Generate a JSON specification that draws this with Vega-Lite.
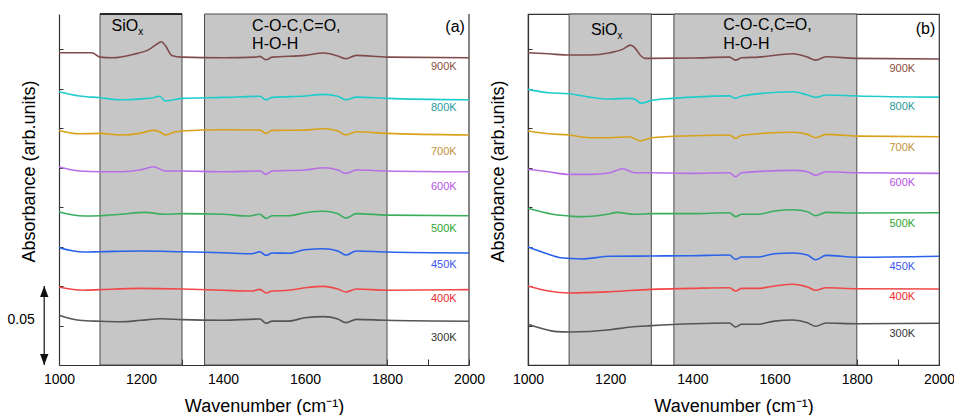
{
  "$schema": "https://vega.github.io/schema/vega-lite/v6.json",
  "padding": {"left": 7, "top": 12, "right": 0, "bottom": 0},
  "spacing": 59,
  "bounds": "flush",
  "config": {"font": "Liberation Sans", "view": {"stroke": null}, "text": {"color": "#000"}},
  "datasets": {
    "spectra": [
      {"p":"a","T":"900K","w":1000,"A":0.1977},{"p":"a","T":"900K","w":1080,"A":0.1977},{"p":"a","T":"900K","w":1100,"A":0.1949},{"p":"a","T":"900K","w":1130,"A":0.1945},{"p":"a","T":"900K","w":1180,"A":0.1966},{"p":"a","T":"900K","w":1220,"A":0.1998},{"p":"a","T":"900K","w":1240,"A":0.2034},{"p":"a","T":"900K","w":1250,"A":0.2046},{"p":"a","T":"900K","w":1260,"A":0.2019},{"p":"a","T":"900K","w":1275,"A":0.1960},{"p":"a","T":"900K","w":1300,"A":0.1949},{"p":"a","T":"900K","w":1400,"A":0.1945},{"p":"a","T":"900K","w":1480,"A":0.1949},{"p":"a","T":"900K","w":1490,"A":0.1954},{"p":"a","T":"900K","w":1505,"A":0.1932},{"p":"a","T":"900K","w":1520,"A":0.1949},{"p":"a","T":"900K","w":1600,"A":0.1960},{"p":"a","T":"900K","w":1645,"A":0.1975},{"p":"a","T":"900K","w":1680,"A":0.1956},{"p":"a","T":"900K","w":1700,"A":0.1939},{"p":"a","T":"900K","w":1725,"A":0.1960},{"p":"a","T":"900K","w":1800,"A":0.1949},{"p":"a","T":"900K","w":2000,"A":0.1945},
      {"p":"a","T":"800K","w":1000,"A":0.1730},{"p":"a","T":"800K","w":1050,"A":0.1703},{"p":"a","T":"800K","w":1100,"A":0.1692},{"p":"a","T":"800K","w":1150,"A":0.1679},{"p":"a","T":"800K","w":1200,"A":0.1685},{"p":"a","T":"800K","w":1230,"A":0.1692},{"p":"a","T":"800K","w":1245,"A":0.1701},{"p":"a","T":"800K","w":1260,"A":0.1671},{"p":"a","T":"800K","w":1280,"A":0.1679},{"p":"a","T":"800K","w":1300,"A":0.1688},{"p":"a","T":"800K","w":1400,"A":0.1694},{"p":"a","T":"800K","w":1490,"A":0.1701},{"p":"a","T":"800K","w":1505,"A":0.1679},{"p":"a","T":"800K","w":1520,"A":0.1694},{"p":"a","T":"800K","w":1600,"A":0.1703},{"p":"a","T":"800K","w":1645,"A":0.1713},{"p":"a","T":"800K","w":1680,"A":0.1701},{"p":"a","T":"800K","w":1700,"A":0.1679},{"p":"a","T":"800K","w":1725,"A":0.1696},{"p":"a","T":"800K","w":1800,"A":0.1688},{"p":"a","T":"800K","w":2000,"A":0.1679},
      {"p":"a","T":"700K","w":1000,"A":0.1485},{"p":"a","T":"700K","w":1050,"A":0.1464},{"p":"a","T":"700K","w":1100,"A":0.1466},{"p":"a","T":"700K","w":1150,"A":0.1456},{"p":"a","T":"700K","w":1200,"A":0.1468},{"p":"a","T":"700K","w":1230,"A":0.1485},{"p":"a","T":"700K","w":1245,"A":0.1477},{"p":"a","T":"700K","w":1260,"A":0.1456},{"p":"a","T":"700K","w":1280,"A":0.1473},{"p":"a","T":"700K","w":1300,"A":0.1481},{"p":"a","T":"700K","w":1400,"A":0.1489},{"p":"a","T":"700K","w":1490,"A":0.1487},{"p":"a","T":"700K","w":1505,"A":0.1466},{"p":"a","T":"700K","w":1520,"A":0.1485},{"p":"a","T":"700K","w":1600,"A":0.1487},{"p":"a","T":"700K","w":1645,"A":0.1496},{"p":"a","T":"700K","w":1680,"A":0.1481},{"p":"a","T":"700K","w":1700,"A":0.1456},{"p":"a","T":"700K","w":1725,"A":0.1477},{"p":"a","T":"700K","w":1800,"A":0.1466},{"p":"a","T":"700K","w":2000,"A":0.1456},
      {"p":"a","T":"600K","w":1000,"A":0.1253},{"p":"a","T":"600K","w":1050,"A":0.1228},{"p":"a","T":"600K","w":1100,"A":0.1223},{"p":"a","T":"600K","w":1150,"A":0.1223},{"p":"a","T":"600K","w":1200,"A":0.1236},{"p":"a","T":"600K","w":1230,"A":0.1255},{"p":"a","T":"600K","w":1260,"A":0.1228},{"p":"a","T":"600K","w":1300,"A":0.1228},{"p":"a","T":"600K","w":1400,"A":0.1223},{"p":"a","T":"600K","w":1490,"A":0.1228},{"p":"a","T":"600K","w":1505,"A":0.1207},{"p":"a","T":"600K","w":1520,"A":0.1228},{"p":"a","T":"600K","w":1600,"A":0.1234},{"p":"a","T":"600K","w":1645,"A":0.1249},{"p":"a","T":"600K","w":1680,"A":0.1234},{"p":"a","T":"600K","w":1700,"A":0.1213},{"p":"a","T":"600K","w":1725,"A":0.1234},{"p":"a","T":"600K","w":1800,"A":0.1228},{"p":"a","T":"600K","w":2000,"A":0.1223},
      {"p":"a","T":"500K","w":1000,"A":0.0968},{"p":"a","T":"500K","w":1060,"A":0.0943},{"p":"a","T":"500K","w":1100,"A":0.0945},{"p":"a","T":"500K","w":1150,"A":0.0954},{"p":"a","T":"500K","w":1210,"A":0.0966},{"p":"a","T":"500K","w":1260,"A":0.0954},{"p":"a","T":"500K","w":1300,"A":0.0958},{"p":"a","T":"500K","w":1400,"A":0.0954},{"p":"a","T":"500K","w":1460,"A":0.0943},{"p":"a","T":"500K","w":1490,"A":0.0954},{"p":"a","T":"500K","w":1505,"A":0.0928},{"p":"a","T":"500K","w":1520,"A":0.0945},{"p":"a","T":"500K","w":1560,"A":0.0945},{"p":"a","T":"500K","w":1600,"A":0.0964},{"p":"a","T":"500K","w":1645,"A":0.0973},{"p":"a","T":"500K","w":1680,"A":0.0958},{"p":"a","T":"500K","w":1700,"A":0.0930},{"p":"a","T":"500K","w":1725,"A":0.0958},{"p":"a","T":"500K","w":1800,"A":0.0949},{"p":"a","T":"500K","w":2000,"A":0.0945},
      {"p":"a","T":"450K","w":1000,"A":0.0742},{"p":"a","T":"450K","w":1060,"A":0.0715},{"p":"a","T":"450K","w":1100,"A":0.0717},{"p":"a","T":"450K","w":1200,"A":0.0722},{"p":"a","T":"450K","w":1300,"A":0.0717},{"p":"a","T":"450K","w":1400,"A":0.0711},{"p":"a","T":"450K","w":1470,"A":0.0704},{"p":"a","T":"450K","w":1490,"A":0.0717},{"p":"a","T":"450K","w":1505,"A":0.0694},{"p":"a","T":"450K","w":1520,"A":0.0709},{"p":"a","T":"450K","w":1560,"A":0.0707},{"p":"a","T":"450K","w":1600,"A":0.0730},{"p":"a","T":"450K","w":1645,"A":0.0736},{"p":"a","T":"450K","w":1680,"A":0.0722},{"p":"a","T":"450K","w":1700,"A":0.0696},{"p":"a","T":"450K","w":1725,"A":0.0722},{"p":"a","T":"450K","w":1800,"A":0.0715},{"p":"a","T":"450K","w":2000,"A":0.0709},
      {"p":"a","T":"400K","w":1000,"A":0.0494},{"p":"a","T":"400K","w":1060,"A":0.0473},{"p":"a","T":"400K","w":1100,"A":0.0477},{"p":"a","T":"400K","w":1200,"A":0.0485},{"p":"a","T":"400K","w":1300,"A":0.0481},{"p":"a","T":"400K","w":1400,"A":0.0473},{"p":"a","T":"400K","w":1470,"A":0.0468},{"p":"a","T":"400K","w":1490,"A":0.0479},{"p":"a","T":"400K","w":1505,"A":0.0456},{"p":"a","T":"400K","w":1520,"A":0.0468},{"p":"a","T":"400K","w":1560,"A":0.0473},{"p":"a","T":"400K","w":1600,"A":0.0489},{"p":"a","T":"400K","w":1645,"A":0.0498},{"p":"a","T":"400K","w":1680,"A":0.0481},{"p":"a","T":"400K","w":1700,"A":0.0462},{"p":"a","T":"400K","w":1725,"A":0.0481},{"p":"a","T":"400K","w":1800,"A":0.0473},{"p":"a","T":"400K","w":2000,"A":0.0477},
      {"p":"a","T":"300K","w":1000,"A":0.0315},{"p":"a","T":"300K","w":1050,"A":0.0283},{"p":"a","T":"300K","w":1100,"A":0.0277},{"p":"a","T":"300K","w":1150,"A":0.0274},{"p":"a","T":"300K","w":1200,"A":0.0283},{"p":"a","T":"300K","w":1250,"A":0.0293},{"p":"a","T":"300K","w":1300,"A":0.0287},{"p":"a","T":"300K","w":1400,"A":0.0283},{"p":"a","T":"300K","w":1490,"A":0.0291},{"p":"a","T":"300K","w":1505,"A":0.0264},{"p":"a","T":"300K","w":1520,"A":0.0278},{"p":"a","T":"300K","w":1560,"A":0.0278},{"p":"a","T":"300K","w":1600,"A":0.0299},{"p":"a","T":"300K","w":1645,"A":0.0306},{"p":"a","T":"300K","w":1680,"A":0.0291},{"p":"a","T":"300K","w":1700,"A":0.0268},{"p":"a","T":"300K","w":1725,"A":0.0289},{"p":"a","T":"300K","w":1800,"A":0.0283},{"p":"a","T":"300K","w":2000,"A":0.0277},
      {"p":"b","T":"900K","w":1000,"A":0.1977},{"p":"b","T":"900K","w":1050,"A":0.1970},{"p":"b","T":"900K","w":1100,"A":0.1962},{"p":"b","T":"900K","w":1150,"A":0.1962},{"p":"b","T":"900K","w":1200,"A":0.1977},{"p":"b","T":"900K","w":1230,"A":0.1998},{"p":"b","T":"900K","w":1250,"A":0.2025},{"p":"b","T":"900K","w":1260,"A":0.2008},{"p":"b","T":"900K","w":1275,"A":0.1956},{"p":"b","T":"900K","w":1285,"A":0.1941},{"p":"b","T":"900K","w":1300,"A":0.1941},{"p":"b","T":"900K","w":1400,"A":0.1943},{"p":"b","T":"900K","w":1490,"A":0.1949},{"p":"b","T":"900K","w":1505,"A":0.1930},{"p":"b","T":"900K","w":1520,"A":0.1945},{"p":"b","T":"900K","w":1560,"A":0.1949},{"p":"b","T":"900K","w":1645,"A":0.1970},{"p":"b","T":"900K","w":1680,"A":0.1949},{"p":"b","T":"900K","w":1700,"A":0.1930},{"p":"b","T":"900K","w":1725,"A":0.1951},{"p":"b","T":"900K","w":1800,"A":0.1941},{"p":"b","T":"900K","w":2000,"A":0.1937},
      {"p":"b","T":"800K","w":1000,"A":0.1745},{"p":"b","T":"800K","w":1050,"A":0.1723},{"p":"b","T":"800K","w":1100,"A":0.1717},{"p":"b","T":"800K","w":1150,"A":0.1696},{"p":"b","T":"800K","w":1200,"A":0.1684},{"p":"b","T":"800K","w":1250,"A":0.1688},{"p":"b","T":"800K","w":1260,"A":0.1682},{"p":"b","T":"800K","w":1275,"A":0.1658},{"p":"b","T":"800K","w":1300,"A":0.1675},{"p":"b","T":"800K","w":1350,"A":0.1688},{"p":"b","T":"800K","w":1400,"A":0.1696},{"p":"b","T":"800K","w":1490,"A":0.1704},{"p":"b","T":"800K","w":1505,"A":0.1688},{"p":"b","T":"800K","w":1520,"A":0.1703},{"p":"b","T":"800K","w":1645,"A":0.1730},{"p":"b","T":"800K","w":1680,"A":0.1709},{"p":"b","T":"800K","w":1700,"A":0.1694},{"p":"b","T":"800K","w":1725,"A":0.1709},{"p":"b","T":"800K","w":1800,"A":0.1703},{"p":"b","T":"800K","w":2000,"A":0.1696},
      {"p":"b","T":"700K","w":1000,"A":0.1481},{"p":"b","T":"700K","w":1050,"A":0.1464},{"p":"b","T":"700K","w":1100,"A":0.1456},{"p":"b","T":"700K","w":1150,"A":0.1439},{"p":"b","T":"700K","w":1200,"A":0.1439},{"p":"b","T":"700K","w":1245,"A":0.1445},{"p":"b","T":"700K","w":1275,"A":0.1418},{"p":"b","T":"700K","w":1300,"A":0.1439},{"p":"b","T":"700K","w":1400,"A":0.1451},{"p":"b","T":"700K","w":1490,"A":0.1456},{"p":"b","T":"700K","w":1505,"A":0.1435},{"p":"b","T":"700K","w":1520,"A":0.1454},{"p":"b","T":"700K","w":1645,"A":0.1473},{"p":"b","T":"700K","w":1680,"A":0.1460},{"p":"b","T":"700K","w":1700,"A":0.1439},{"p":"b","T":"700K","w":1725,"A":0.1460},{"p":"b","T":"700K","w":1800,"A":0.1449},{"p":"b","T":"700K","w":2000,"A":0.1445},
      {"p":"b","T":"600K","w":1000,"A":0.1239},{"p":"b","T":"600K","w":1050,"A":0.1223},{"p":"b","T":"600K","w":1100,"A":0.1207},{"p":"b","T":"600K","w":1150,"A":0.1207},{"p":"b","T":"600K","w":1200,"A":0.1217},{"p":"b","T":"600K","w":1230,"A":0.1242},{"p":"b","T":"600K","w":1260,"A":0.1217},{"p":"b","T":"600K","w":1300,"A":0.1217},{"p":"b","T":"600K","w":1400,"A":0.1213},{"p":"b","T":"600K","w":1490,"A":0.1217},{"p":"b","T":"600K","w":1505,"A":0.1192},{"p":"b","T":"600K","w":1520,"A":0.1217},{"p":"b","T":"600K","w":1645,"A":0.1232},{"p":"b","T":"600K","w":1680,"A":0.1223},{"p":"b","T":"600K","w":1700,"A":0.1201},{"p":"b","T":"600K","w":1725,"A":0.1223},{"p":"b","T":"600K","w":1800,"A":0.1217},{"p":"b","T":"600K","w":2000,"A":0.1213},
      {"p":"b","T":"500K","w":1000,"A":0.0992},{"p":"b","T":"500K","w":1060,"A":0.0954},{"p":"b","T":"500K","w":1100,"A":0.0943},{"p":"b","T":"500K","w":1130,"A":0.0939},{"p":"b","T":"500K","w":1200,"A":0.0958},{"p":"b","T":"500K","w":1215,"A":0.0966},{"p":"b","T":"500K","w":1260,"A":0.0954},{"p":"b","T":"500K","w":1300,"A":0.0958},{"p":"b","T":"500K","w":1400,"A":0.0958},{"p":"b","T":"500K","w":1490,"A":0.0964},{"p":"b","T":"500K","w":1505,"A":0.0939},{"p":"b","T":"500K","w":1520,"A":0.0954},{"p":"b","T":"500K","w":1560,"A":0.0954},{"p":"b","T":"500K","w":1600,"A":0.0975},{"p":"b","T":"500K","w":1645,"A":0.0983},{"p":"b","T":"500K","w":1680,"A":0.0970},{"p":"b","T":"500K","w":1700,"A":0.0945},{"p":"b","T":"500K","w":1725,"A":0.0966},{"p":"b","T":"500K","w":1800,"A":0.0962},{"p":"b","T":"500K","w":2000,"A":0.0964},
      {"p":"b","T":"450K","w":1000,"A":0.0747},{"p":"b","T":"450K","w":1050,"A":0.0701},{"p":"b","T":"450K","w":1080,"A":0.0679},{"p":"b","T":"450K","w":1100,"A":0.0675},{"p":"b","T":"450K","w":1130,"A":0.0671},{"p":"b","T":"450K","w":1200,"A":0.0688},{"p":"b","T":"450K","w":1300,"A":0.0690},{"p":"b","T":"450K","w":1400,"A":0.0692},{"p":"b","T":"450K","w":1490,"A":0.0696},{"p":"b","T":"450K","w":1505,"A":0.0669},{"p":"b","T":"450K","w":1520,"A":0.0684},{"p":"b","T":"450K","w":1560,"A":0.0684},{"p":"b","T":"450K","w":1600,"A":0.0704},{"p":"b","T":"450K","w":1645,"A":0.0709},{"p":"b","T":"450K","w":1680,"A":0.0696},{"p":"b","T":"450K","w":1700,"A":0.0666},{"p":"b","T":"450K","w":1725,"A":0.0694},{"p":"b","T":"450K","w":1800,"A":0.0682},{"p":"b","T":"450K","w":2000,"A":0.0688},
      {"p":"b","T":"400K","w":1000,"A":0.0500},{"p":"b","T":"400K","w":1050,"A":0.0468},{"p":"b","T":"400K","w":1100,"A":0.0456},{"p":"b","T":"400K","w":1200,"A":0.0464},{"p":"b","T":"400K","w":1300,"A":0.0479},{"p":"b","T":"400K","w":1400,"A":0.0485},{"p":"b","T":"400K","w":1490,"A":0.0489},{"p":"b","T":"400K","w":1505,"A":0.0468},{"p":"b","T":"400K","w":1520,"A":0.0485},{"p":"b","T":"400K","w":1560,"A":0.0485},{"p":"b","T":"400K","w":1600,"A":0.0500},{"p":"b","T":"400K","w":1645,"A":0.0511},{"p":"b","T":"400K","w":1680,"A":0.0494},{"p":"b","T":"400K","w":1700,"A":0.0473},{"p":"b","T":"400K","w":1725,"A":0.0489},{"p":"b","T":"400K","w":1800,"A":0.0483},{"p":"b","T":"400K","w":2000,"A":0.0481},
      {"p":"b","T":"300K","w":1000,"A":0.0258},{"p":"b","T":"300K","w":1050,"A":0.0220},{"p":"b","T":"300K","w":1070,"A":0.0211},{"p":"b","T":"300K","w":1100,"A":0.0209},{"p":"b","T":"300K","w":1200,"A":0.0223},{"p":"b","T":"300K","w":1250,"A":0.0241},{"p":"b","T":"300K","w":1300,"A":0.0249},{"p":"b","T":"300K","w":1400,"A":0.0261},{"p":"b","T":"300K","w":1490,"A":0.0266},{"p":"b","T":"300K","w":1505,"A":0.0241},{"p":"b","T":"300K","w":1520,"A":0.0258},{"p":"b","T":"300K","w":1560,"A":0.0258},{"p":"b","T":"300K","w":1600,"A":0.0278},{"p":"b","T":"300K","w":1645,"A":0.0285},{"p":"b","T":"300K","w":1680,"A":0.0268},{"p":"b","T":"300K","w":1700,"A":0.0245},{"p":"b","T":"300K","w":1725,"A":0.0266},{"p":"b","T":"300K","w":1800,"A":0.0261},{"p":"b","T":"300K","w":2000,"A":0.0264}
    ],
    "labels": [
      {"p":"a","T":"900K","w":1970,"A":0.1886},{"p":"a","T":"800K","w":1970,"A":0.1628},{"p":"a","T":"700K","w":1970,"A":0.1348},{"p":"a","T":"600K","w":1970,"A":0.1128},{"p":"a","T":"500K","w":1970,"A":0.0859},{"p":"a","T":"450K","w":1970,"A":0.0631},{"p":"a","T":"400K","w":1970,"A":0.0416},{"p":"a","T":"300K","w":1970,"A":0.0173},
      {"p":"b","T":"900K","w":1942,"A":0.1872},{"p":"b","T":"800K","w":1942,"A":0.1633},{"p":"b","T":"700K","w":1942,"A":0.1375},{"p":"b","T":"600K","w":1942,"A":0.1154},{"p":"b","T":"500K","w":1942,"A":0.0891},{"p":"b","T":"450K","w":1942,"A":0.0620},{"p":"b","T":"400K","w":1942,"A":0.0430},{"p":"b","T":"300K","w":1942,"A":0.0194}
    ],
    "notes": [
      {"p":"a","k":"main","w":1128,"A":0.2114,"t":"SiO"},
      {"p":"a","k":"main","w":1471,"A":0.2114,"t":"C-O-C,C=O,"},
      {"p":"a","k":"main","w":1471,"A":0.1998,"t":"H-O-H"},
      {"p":"a","k":"sub","w":1193,"A":0.2089,"t":"x"},
      {"p":"a","k":"tag","w":1990,"A":0.2110,"t":"(a)"},
      {"p":"b","k":"main","w":1153,"A":0.2087,"t":"SiO"},
      {"p":"b","k":"main","w":1475,"A":0.2120,"t":"C-O-C,C=O,"},
      {"p":"b","k":"main","w":1475,"A":0.2002,"t":"H-O-H"},
      {"p":"b","k":"sub","w":1218,"A":0.2061,"t":"x"},
      {"p":"b","k":"tag","w":1991,"A":0.2093,"t":"(b)"}
    ],
    "regions": [{"w":1100,"w2":1300},{"w":1355,"w2":1800}]
  },
  "hconcat": [
    {
      "width": 410, "height": 351,
      "view": {"stroke": null},
      "layer": [
        {
          "data": {"name": "regions"},
          "mark": {"type": "rect", "fill": "#C6C6C6", "stroke": "#4A4A4A", "strokeWidth": 1},
          "encoding": {
            "x": {"field": "w", "type": "quantitative", "scale": {"domain": [1000, 2000], "nice": false, "zero": false}},
            "x2": {"field": "w2"}
          }
        },
        {
          "data": {"values": [{"w": 1100, "w2": 1300, "A": 0.2222}]},
          "mark": {"type": "rule", "color": "#000", "strokeWidth": 1.5},
          "encoding": {
            "x": {"field": "w", "type": "quantitative", "scale": {"domain": [1000, 2000], "nice": false, "zero": false}},
            "x2": {"field": "w2"},
            "y": {"field": "A", "type": "quantitative", "scale": {"domain": [0, 0.2222], "nice": false, "zero": false}}
          }
        },
        {
          "data": {"values": [{"w": 2000}]},
          "mark": {"type": "rule", "color": "#333", "strokeWidth": 1.2},
          "encoding": {
            "x": {"field": "w", "type": "quantitative", "scale": {"domain": [1000, 2000], "nice": false, "zero": false}}
          }
        },
        {
          "data": {"name": "spectra"},
          "transform": [{"filter": "datum.p == 'a'"}],
          "mark": {"type": "line", "strokeWidth": 1.6, "interpolate": "monotone"},
          "encoding": {
            "x": {"field": "w", "type": "quantitative", "scale": {"domain": [1000, 2000], "nice": false, "zero": false},
                  "axis": {"title": "Wavenumber (cm⁻¹)", "values": [1000,1100,1200,1300,1400,1500,1600,1700,1800,1900,2000], "format": "d", "labelExpr": "datum.value % 200 == 0 ? datum.label : ''", "tickSize": -6, "labelPadding": 13, "labelFontSize": 14, "labelColor": "#000", "labelFlush": false, "labelOverlap": false, "titleFontSize": 18, "titleFontWeight": "normal", "titleColor": "#000", "titlePadding": 11, "grid": false, "domainColor": "#333", "domainWidth": 1.2, "tickColor": "#333"}},
            "y": {"field": "A", "type": "quantitative", "scale": {"domain": [0, 0.2222], "nice": false, "zero": false},
                  "axis": {"title": "Absorbance (arb.units)", "labels": false, "values": [0.025,0.05,0.075,0.1,0.125,0.15,0.175,0.2], "tickSize": -4, "titleFontSize": 18, "titleFontWeight": "normal", "titleColor": "#000", "titlePadding": 20, "titleY": 157, "grid": false, "domainColor": "#333", "domainWidth": 1.2, "tickColor": "#333"}},
            "stroke": {"field": "T", "type": "nominal", "scale": {"domain": ["900K","800K","700K","600K","500K","450K","400K","300K"], "range": ["#7F4B4B","#1FCBCB","#D8A21A","#B86FE6","#3BAE5E","#2A62EA","#F04848","#555555"]}, "legend": null}
          }
        },
        {
          "data": {"name": "labels"},
          "transform": [{"filter": "datum.p == 'a'"}],
          "mark": {"type": "text", "align": "right", "baseline": "middle", "fontSize": 11},
          "encoding": {
            "x": {"field": "w", "type": "quantitative", "scale": {"domain": [1000, 2000], "nice": false, "zero": false}},
            "y": {"field": "A", "type": "quantitative", "scale": {"domain": [0, 0.2222], "nice": false, "zero": false}},
            "text": {"field": "T"},
            "fill": {"field": "T", "type": "nominal", "scale": {"domain": ["900K","800K","700K","600K","500K","450K","400K","300K"], "range": ["#8A4E3A","#2B9A9A","#C2913A","#B455E0","#2EA52E","#3D55F0","#F02A2A","#333333"]}, "legend": null}
          }
        },
        {
          "data": {"name": "notes"},
          "transform": [{"filter": "datum.p == 'a' && datum.k == 'main'"}],
          "mark": {"type": "text", "align": "left", "baseline": "alphabetic", "fontSize": 16, "color": "#000"},
          "encoding": {
            "x": {"field": "w", "type": "quantitative", "scale": {"domain": [1000, 2000], "nice": false, "zero": false}},
            "y": {"field": "A", "type": "quantitative", "scale": {"domain": [0, 0.2222], "nice": false, "zero": false}},
            "text": {"field": "t"}
          }
        },
        {
          "data": {"name": "notes"},
          "transform": [{"filter": "datum.p == 'a' && datum.k == 'sub'"}],
          "mark": {"type": "text", "align": "left", "baseline": "alphabetic", "fontSize": 10, "color": "#000"},
          "encoding": {
            "x": {"field": "w", "type": "quantitative", "scale": {"domain": [1000, 2000], "nice": false, "zero": false}},
            "y": {"field": "A", "type": "quantitative", "scale": {"domain": [0, 0.2222], "nice": false, "zero": false}},
            "text": {"field": "t"}
          }
        },
        {
          "data": {"name": "notes"},
          "transform": [{"filter": "datum.p == 'a' && datum.k == 'tag'"}],
          "mark": {"type": "text", "align": "right", "baseline": "alphabetic", "fontSize": 16, "color": "#000"},
          "encoding": {
            "x": {"field": "w", "type": "quantitative", "scale": {"domain": [1000, 2000], "nice": false, "zero": false}},
            "y": {"field": "A", "type": "quantitative", "scale": {"domain": [0, 0.2222], "nice": false, "zero": false}},
            "text": {"field": "t"}
          }
        },
        {
          "data": {"values": [{"w": 964, "A": 0.0, "A2": 0.05}]},
          "mark": {"type": "rule", "color": "#333", "strokeWidth": 1.4},
          "encoding": {
            "x": {"field": "w", "type": "quantitative", "scale": {"domain": [1000, 2000], "nice": false, "zero": false}},
            "y": {"field": "A", "type": "quantitative", "scale": {"domain": [0, 0.2222], "nice": false, "zero": false}},
            "y2": {"field": "A2"}
          }
        },
        {
          "data": {"values": [{"w": 964, "A": 0.05, "d": "up"}, {"w": 964, "A": 0.0, "d": "down"}]},
          "mark": {"type": "point", "filled": true, "size": 484, "color": "#111", "opacity": 1},
          "encoding": {
            "x": {"field": "w", "type": "quantitative", "scale": {"domain": [1000, 2000], "nice": false, "zero": false}},
            "y": {"field": "A", "type": "quantitative", "scale": {"domain": [0, 0.2222], "nice": false, "zero": false}},
            "shape": {"field": "d", "type": "nominal", "scale": {"domain": ["up", "down"], "range": ["M0,0L-0.38,1L0.38,1Z", "M0,0L-0.38,-1L0.38,-1Z"]}, "legend": null}
          }
        },
        {
          "data": {"values": [{"w": 941, "A": 0.0285, "t": "0.05"}]},
          "mark": {"type": "text", "align": "right", "baseline": "middle", "fontSize": 14, "color": "#000"},
          "encoding": {
            "x": {"field": "w", "type": "quantitative", "scale": {"domain": [1000, 2000], "nice": false, "zero": false}},
            "y": {"field": "A", "type": "quantitative", "scale": {"domain": [0, 0.2222], "nice": false, "zero": false}},
            "text": {"field": "t"}
          }
        }
      ]
    },
    {
      "width": 411, "height": 351,
      "view": {"stroke": "#333", "strokeWidth": 1.2},
      "layer": [
        {
          "data": {"name": "regions"},
          "mark": {"type": "rect", "fill": "#C6C6C6", "stroke": "#4A4A4A", "strokeWidth": 1},
          "encoding": {
            "x": {"field": "w", "type": "quantitative", "scale": {"domain": [1000, 2000], "nice": false, "zero": false}},
            "x2": {"field": "w2"}
          }
        },
        {
          "data": {"name": "spectra"},
          "transform": [{"filter": "datum.p == 'b'"}],
          "mark": {"type": "line", "strokeWidth": 1.6, "interpolate": "monotone"},
          "encoding": {
            "x": {"field": "w", "type": "quantitative", "scale": {"domain": [1000, 2000], "nice": false, "zero": false},
                  "axis": {"title": "Wavenumber (cm⁻¹)", "values": [1000,1100,1200,1300,1400,1500,1600,1700,1800,1900,2000], "format": "d", "labelExpr": "datum.value % 200 == 0 ? datum.label : ''", "tickSize": -6, "labelPadding": 13, "labelFontSize": 14, "labelColor": "#000", "labelFlush": false, "labelOverlap": false, "titleFontSize": 18, "titleFontWeight": "normal", "titleColor": "#000", "titlePadding": 11, "grid": false, "domainColor": "#333", "domainWidth": 1.2, "tickColor": "#333"}},
            "y": {"field": "A", "type": "quantitative", "scale": {"domain": [0, 0.2222], "nice": false, "zero": false},
                  "axis": {"title": "Absorbance (arb.units)", "labels": false, "values": [0.025,0.05,0.075,0.1,0.125,0.15,0.175,0.2], "tickSize": -4, "titleFontSize": 18, "titleFontWeight": "normal", "titleColor": "#000", "titlePadding": 20, "titleY": 157, "grid": false, "domainColor": "#333", "domainWidth": 1.2, "tickColor": "#333"}},
            "stroke": {"field": "T", "type": "nominal", "scale": {"domain": ["900K","800K","700K","600K","500K","450K","400K","300K"], "range": ["#7F4B4B","#1FCBCB","#D8A21A","#B86FE6","#3BAE5E","#2A62EA","#F04848","#555555"]}, "legend": null}
          }
        },
        {
          "data": {"name": "labels"},
          "transform": [{"filter": "datum.p == 'b'"}],
          "mark": {"type": "text", "align": "right", "baseline": "middle", "fontSize": 11},
          "encoding": {
            "x": {"field": "w", "type": "quantitative", "scale": {"domain": [1000, 2000], "nice": false, "zero": false}},
            "y": {"field": "A", "type": "quantitative", "scale": {"domain": [0, 0.2222], "nice": false, "zero": false}},
            "text": {"field": "T"},
            "fill": {"field": "T", "type": "nominal", "scale": {"domain": ["900K","800K","700K","600K","500K","450K","400K","300K"], "range": ["#8A4E3A","#2B9A9A","#C2913A","#B455E0","#2EA52E","#3D55F0","#F02A2A","#333333"]}, "legend": null}
          }
        },
        {
          "data": {"name": "notes"},
          "transform": [{"filter": "datum.p == 'b' && datum.k == 'main'"}],
          "mark": {"type": "text", "align": "left", "baseline": "alphabetic", "fontSize": 16, "color": "#000"},
          "encoding": {
            "x": {"field": "w", "type": "quantitative", "scale": {"domain": [1000, 2000], "nice": false, "zero": false}},
            "y": {"field": "A", "type": "quantitative", "scale": {"domain": [0, 0.2222], "nice": false, "zero": false}},
            "text": {"field": "t"}
          }
        },
        {
          "data": {"name": "notes"},
          "transform": [{"filter": "datum.p == 'b' && datum.k == 'sub'"}],
          "mark": {"type": "text", "align": "left", "baseline": "alphabetic", "fontSize": 10, "color": "#000"},
          "encoding": {
            "x": {"field": "w", "type": "quantitative", "scale": {"domain": [1000, 2000], "nice": false, "zero": false}},
            "y": {"field": "A", "type": "quantitative", "scale": {"domain": [0, 0.2222], "nice": false, "zero": false}},
            "text": {"field": "t"}
          }
        },
        {
          "data": {"name": "notes"},
          "transform": [{"filter": "datum.p == 'b' && datum.k == 'tag'"}],
          "mark": {"type": "text", "align": "right", "baseline": "alphabetic", "fontSize": 16, "color": "#000"},
          "encoding": {
            "x": {"field": "w", "type": "quantitative", "scale": {"domain": [1000, 2000], "nice": false, "zero": false}},
            "y": {"field": "A", "type": "quantitative", "scale": {"domain": [0, 0.2222], "nice": false, "zero": false}},
            "text": {"field": "t"}
          }
        }
      ]
    }
  ]
}
